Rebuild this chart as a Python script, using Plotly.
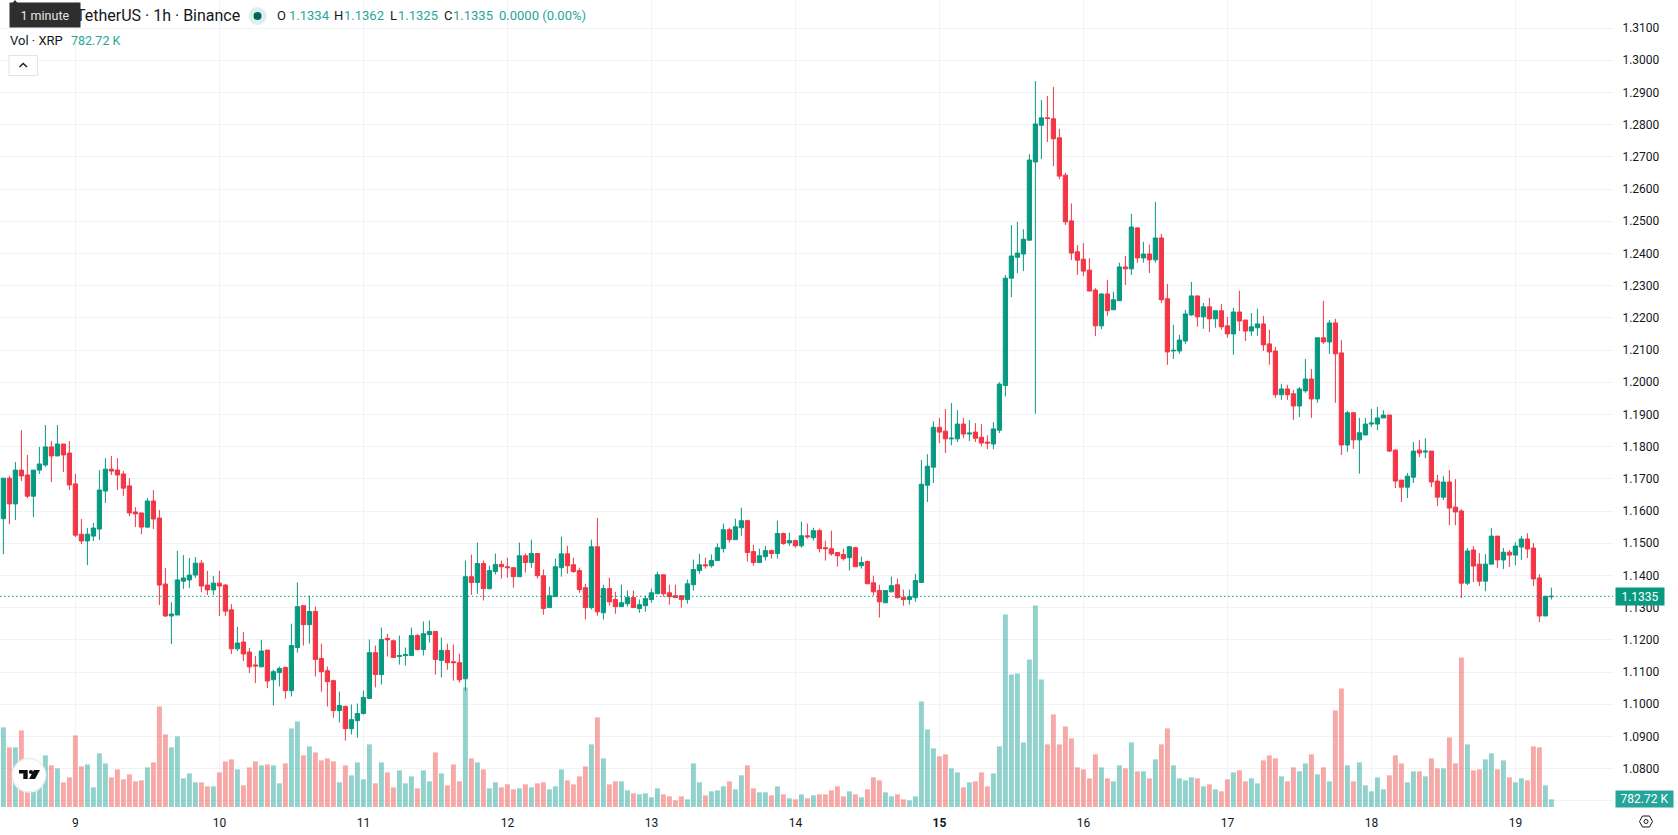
import pandas as pd
import plotly.graph_objects as go

# Hourly XRP/USDT candles, oldest first
opens = [
    1.1576,1.1702,1.1622,1.1727,1.1712,1.1646,1.1727,1.1743,1.1799,1.1771,1.1808,1.1780,
    1.1684,1.1528,1.1507,1.1522,1.1544,1.1662,1.1730,1.1727,1.1715,1.1678,1.1597,1.1594,
    1.1550,1.1631,1.1578,1.1373,1.1274,1.1277,1.1382,1.1386,1.1401,1.1438,1.1370,1.1355,
    1.1376,1.1370,1.1293,1.1172,1.1193,1.1162,1.1122,1.1116,1.1168,1.1076,1.1098,1.1114,
    1.1042,1.1176,1.1306,1.1247,1.1288,1.1142,1.1104,1.1073,1.0980,1.0993,1.0924,1.0949,
    1.0971,1.1018,1.1160,1.1092,1.1204,1.1197,1.1148,1.1151,1.1151,1.1213,1.1170,1.1216,
    1.1226,1.1136,1.1167,1.1132,1.1129,1.1079,1.1396,1.1378,1.1437,1.1359,1.1412,1.1434,
    1.1427,1.1424,1.1396,1.1461,1.1440,1.1468,1.1399,1.1300,1.1334,1.1424,1.1467,1.1433,
    1.1415,1.1362,1.1300,1.1489,1.1284,1.1359,1.1325,1.1303,1.1312,1.1331,1.1297,1.1306,
    1.1325,1.1343,1.1402,1.1346,1.1337,1.1337,1.1325,1.1371,1.1415,1.1433,1.1430,1.1446,
    1.1483,1.1542,1.1511,1.1548,1.1570,1.1474,1.1440,1.1458,1.1477,1.1468,1.1530,1.1501,
    1.1508,1.1492,1.1523,1.1517,1.1539,1.1486,1.1483,1.1471,1.1465,1.1455,1.1486,1.1430,
    1.1443,1.1377,1.1353,1.1315,1.1349,1.1371,1.1331,1.1325,1.1331,1.1378,1.1680,1.1736,
    1.1860,1.1848,1.1824,1.1824,1.1870,1.1839,1.1845,1.1829,1.1814,1.1808,1.1851,1.1990,
    1.2323,1.2388,1.2398,1.2441,1.2684,1.2798,1.2821,1.2818,1.2759,1.2643,1.2501,1.2405,
    1.2382,1.2348,1.2286,1.2175,1.2274,1.2225,1.2253,1.2358,1.2352,1.2479,1.2386,1.2398,
    1.2380,1.2448,1.2259,1.2097,1.2097,1.2128,1.2209,1.2268,1.2203,1.2234,1.2197,1.2222,
    1.2175,1.2150,1.2218,1.2193,1.2159,1.2169,1.2181,1.2119,1.2097,1.1961,1.1979,1.1964,
    1.1926,1.1973,1.2010,1.1948,1.2138,1.2125,1.2184,1.2091,1.1805,1.1905,1.1821,1.1836,
    1.1870,1.1870,1.1889,1.1898,1.1789,1.1696,1.1674,1.1705,1.1789,1.1783,1.1786,1.1693,
    1.1643,1.1690,1.1612,1.1600,1.1376,1.1479,1.1435,1.1382,1.1435,1.1522,1.1448,1.1472,
    1.1463,1.1488,1.1513,1.1485,1.1392,1.1274,1.1334,
]
highs = [
    1.1702,1.1709,1.1752,1.1851,1.1774,1.1727,1.1799,1.1867,1.1817,1.1867,1.1808,1.1817,
    1.1715,1.1575,1.1547,1.1563,1.1727,1.1764,1.1771,1.1764,1.1724,1.1702,1.1612,1.1594,
    1.1640,1.1665,1.1603,1.1423,1.1317,1.1476,1.1463,1.1454,1.1457,1.1448,1.1414,1.1398,
    1.1414,1.1373,1.1311,1.1240,1.1224,1.1175,1.1150,1.1200,1.1168,1.1107,1.1117,1.1117,
    1.1250,1.1378,1.1306,1.1337,1.1303,1.1188,1.1117,1.1076,1.1039,1.0996,1.0999,1.1002,
    1.1042,1.1201,1.1182,1.1238,1.1219,1.1201,1.1213,1.1176,1.1238,1.1219,1.1257,1.1260,
    1.1226,1.1207,1.1188,1.1185,1.1157,1.1446,1.1465,1.1502,1.1446,1.1430,1.1468,1.1446,
    1.1455,1.1424,1.1502,1.1468,1.1511,1.1468,1.1418,1.1365,1.1452,1.1520,1.1492,1.1455,
    1.1424,1.1374,1.1511,1.1579,1.1371,1.1393,1.1349,1.1371,1.1353,1.1353,1.1325,1.1337,
    1.1359,1.1412,1.1402,1.1371,1.1371,1.1337,1.1387,1.1449,1.1467,1.1455,1.1465,1.1499,
    1.1561,1.1548,1.1576,1.1610,1.1573,1.1495,1.1483,1.1492,1.1480,1.1570,1.1533,1.1533,
    1.1511,1.1567,1.1561,1.1548,1.1545,1.1508,1.1539,1.1471,1.1483,1.1492,1.1489,1.1458,
    1.1446,1.1399,1.1371,1.1353,1.1396,1.1390,1.1356,1.1356,1.1405,1.1758,1.1776,1.1879,
    1.1889,1.1917,1.1935,1.1913,1.1889,1.1882,1.1873,1.1870,1.1835,1.1876,1.2000,1.2333,
    1.2488,1.2498,1.2475,1.2708,1.2935,1.2876,1.2889,1.2917,1.2787,1.2650,1.2555,1.2426,
    1.2432,1.2385,1.2292,1.2276,1.2318,1.2281,1.2371,1.2392,1.2523,1.2482,1.2436,1.2427,
    1.2560,1.2461,1.2305,1.2178,1.2147,1.2225,1.2311,1.2268,1.2246,1.2262,1.2222,1.2243,
    1.2203,1.2231,1.2284,1.2193,1.2215,1.2228,1.2206,1.2163,1.2110,1.1995,1.1992,1.1976,
    1.1985,1.2072,1.2041,1.2138,1.2253,1.2193,1.2197,1.2131,1.1911,1.1908,1.1889,1.1889,
    1.1917,1.1923,1.1913,1.1898,1.1792,1.1696,1.1718,1.1814,1.1820,1.1826,1.1786,1.1712,
    1.1708,1.1727,1.1699,1.1606,1.1485,1.1491,1.1469,1.1466,1.1547,1.1522,1.1485,1.1479,
    1.1503,1.1522,1.1531,1.1500,1.1404,1.1336,1.1362,
]
lows = [
    1.1466,1.1559,1.1572,1.1693,1.1640,1.1581,1.1715,1.1737,1.1690,1.1771,1.1721,1.1665,
    1.1519,1.1497,1.1432,1.1507,1.1510,1.1625,1.1712,1.1665,1.1646,1.1584,1.1550,1.1528,
    1.1547,1.1544,1.1308,1.1271,1.1187,1.1277,1.1358,1.1361,1.1392,1.1348,1.1339,1.1339,
    1.1274,1.1274,1.1156,1.1165,1.1134,1.1097,1.1066,1.1116,1.1050,1.0996,1.1055,1.1017,
    1.1024,1.1160,1.1182,1.1188,1.1086,1.1039,1.0993,1.0958,1.0943,1.0887,1.0906,1.0896,
    1.0968,1.1018,1.1052,1.1061,1.1148,1.1145,1.1123,1.1120,1.1151,1.1167,1.1151,1.1191,
    1.1092,1.1083,1.1107,1.1073,1.1067,1.1042,1.1340,1.1343,1.1322,1.1356,1.1403,1.1390,
    1.1393,1.1362,1.1396,1.1409,1.1424,1.1390,1.1278,1.1300,1.1334,1.1396,1.1405,1.1408,
    1.1346,1.1263,1.1294,1.1275,1.1263,1.1306,1.1281,1.1303,1.1303,1.1300,1.1284,1.1287,
    1.1315,1.1343,1.1334,1.1309,1.1331,1.1300,1.1312,1.1353,1.1405,1.1421,1.1424,1.1446,
    1.1471,1.1502,1.1511,1.1523,1.1443,1.1430,1.1440,1.1446,1.1452,1.1452,1.1495,1.1492,
    1.1486,1.1486,1.1514,1.1508,1.1471,1.1446,1.1461,1.1427,1.1446,1.1415,1.1427,1.1421,
    1.1374,1.1337,1.1269,1.1315,1.1349,1.1328,1.1306,1.1309,1.1318,1.1378,1.1628,1.1687,
    1.1811,1.1780,1.1804,1.1814,1.1826,1.1817,1.1814,1.1801,1.1792,1.1792,1.1842,1.1956,
    1.2264,1.2339,1.2345,1.2441,1.1902,1.2693,1.2746,1.2671,1.2630,1.2488,1.2379,1.2333,
    1.2330,1.2283,1.2143,1.2165,1.2206,1.2225,1.2253,1.2302,1.2333,1.2371,1.2371,1.2339,
    1.2371,1.2246,1.2054,1.2072,1.2088,1.2119,1.2206,1.2172,1.2166,1.2156,1.2169,1.2163,
    1.2138,1.2085,1.2159,1.2128,1.2144,1.2144,1.2097,1.2054,1.1951,1.1945,1.1945,1.1883,
    1.1892,1.1967,1.1889,1.1936,1.2119,1.2088,1.1936,1.1774,1.1784,1.1793,1.1716,1.1836,
    1.1861,1.1851,1.1889,1.1783,1.1671,1.1628,1.1640,1.1687,1.1767,1.1764,1.1674,1.1615,
    1.1634,1.1556,1.1556,1.1330,1.1370,1.1379,1.1367,1.1351,1.1435,1.1423,1.1420,1.1426,
    1.1432,1.1448,1.1454,1.1367,1.1255,1.1274,1.1325,
]
closes = [
    1.1702,1.1622,1.1727,1.1709,1.1646,1.1727,1.1746,1.1799,1.1771,1.1808,1.1774,1.1681,
    1.1525,1.1507,1.1528,1.1547,1.1665,1.1730,1.1724,1.1712,1.1671,1.1594,1.1591,1.1550,
    1.1631,1.1575,1.1370,1.1274,1.1280,1.1386,1.1392,1.1401,1.1438,1.1367,1.1355,1.1376,
    1.1367,1.1289,1.1172,1.1190,1.1156,1.1116,1.1119,1.1165,1.1072,1.1101,1.1111,1.1042,
    1.1182,1.1303,1.1247,1.1288,1.1139,1.1101,1.1070,1.0980,1.0996,1.0924,1.0952,1.0971,
    1.1021,1.1160,1.1092,1.1201,1.1200,1.1145,1.1151,1.1154,1.1213,1.1170,1.1219,1.1226,
    1.1139,1.1167,1.1129,1.1129,1.1076,1.1396,1.1378,1.1437,1.1359,1.1415,1.1434,1.1427,
    1.1424,1.1396,1.1461,1.1440,1.1468,1.1399,1.1297,1.1337,1.1427,1.1467,1.1430,1.1412,
    1.1356,1.1300,1.1489,1.1287,1.1359,1.1318,1.1303,1.1315,1.1331,1.1300,1.1309,1.1328,
    1.1346,1.1402,1.1343,1.1334,1.1331,1.1325,1.1374,1.1418,1.1433,1.1430,1.1446,1.1486,
    1.1542,1.1511,1.1551,1.1570,1.1471,1.1440,1.1461,1.1477,1.1468,1.1530,1.1499,1.1508,
    1.1492,1.1523,1.1520,1.1539,1.1483,1.1483,1.1467,1.1461,1.1452,1.1489,1.1427,1.1440,
    1.1374,1.1349,1.1318,1.1353,1.1368,1.1331,1.1325,1.1334,1.1384,1.1683,1.1739,1.1860,
    1.1845,1.1824,1.1826,1.1870,1.1839,1.1842,1.1826,1.1811,1.1811,1.1855,1.1994,1.2323,
    1.2392,1.2401,1.2444,1.2690,1.2802,1.2821,1.2819,1.2756,1.2640,1.2498,1.2401,1.2379,
    1.2345,1.2283,1.2175,1.2274,1.2222,1.2256,1.2358,1.2352,1.2482,1.2386,1.2398,1.2380,
    1.2448,1.2256,1.2094,1.2099,1.2131,1.2212,1.2268,1.2203,1.2234,1.2197,1.2222,1.2172,
    1.2150,1.2218,1.2190,1.2159,1.2172,1.2181,1.2116,1.2094,1.1961,1.1979,1.1961,1.1926,
    1.1979,1.2010,1.1948,1.2138,1.2125,1.2184,1.2088,1.1805,1.1905,1.1821,1.1843,1.1870,
    1.1873,1.1889,1.1898,1.1786,1.1693,1.1674,1.1708,1.1786,1.1780,1.1786,1.1690,1.1643,
    1.1690,1.1609,1.1597,1.1376,1.1476,1.1429,1.1382,1.1435,1.1522,1.1448,1.1472,1.1463,
    1.1491,1.1513,1.1482,1.1389,1.1274,1.1335,1.1335,
]

# Traded volume per candle, in thousands of XRP
volumes_k = [
    8126,6086,6086,7820,3060,2380,2890,5270,4250,3944,2516,3026,7310,4148,4352,2006,5474,4454,
    3026,3842,2822,3332,2618,2720,4046,4556,10268,7412,6086,7208,2924,3434,2516,2516,2108,2108,
    3536,4658,4862,3842,2210,4046,4658,4250,4352,4250,2414,4454,8024,8738,5270,6188,5576,4760,
    4964,4658,2516,4250,3230,4556,2822,6392,2414,4556,3536,2006,3740,2414,3128,1904,3740,2618,
    5576,3434,2210,4352,2618,12206,4964,4556,3842,1904,2516,2006,2312,1802,1904,2312,2006,2414,
    2516,1802,2108,3842,2720,2312,3128,4148,6392,9146,4964,2312,2618,2618,1700,1394,1292,1394,
    986,1904,1292,1088,680,1088,782,4454,2516,1190,1598,1700,2108,2618,1802,3230,4250,1904,
    1496,1496,1190,2108,1292,884,782,1292,884,1190,1292,1292,1700,2108,1088,1598,1292,986,
    1802,3026,2720,1496,1088,1292,782,680,1088,10778,7922,5984,5168,5372,3944,3536,2006,2516,
    2618,3536,2108,3434,6188,19652,13532,13634,6596,15062,20570,13022,6392,9452,6392,8228,7004,
    4046,3842,2924,5372,4046,2924,2618,4250,3944,6596,3638,3638,2924,4862,6392,8024,4250,2924,
    2720,3026,2924,2108,2312,1802,1598,2822,3536,3740,2618,2924,2414,4760,5270,4964,3128,2618,
    4046,3638,4454,5372,3332,4046,2618,9860,12104,4250,2618,4556,2210,1598,3026,1802,3230,5270,
    4454,2516,3638,3638,3128,4964,3944,3944,7106,4454,15266,6392,3740,3842,4862,5474,3842,4760,
    3026,2516,2924,2720,6188,6086,2210,782.72,
]

price_ticks = [1.07 + i * 0.01 for i in range(25)]
price_labels = [""] + [f"{v:.4f}" for v in price_ticks[1:]]  # the 1.0700 slot sits behind the volume tag
day_labels = ["9", "10", "11", "12", "13", "14", "<b>15</b>", "16", "17", "18", "19"]

assert all(len(s) == len(opens) for s in (highs, lows, closes, volumes_k))

times = pd.date_range("2021-09-08 12:00", periods=len(opens), freq="h")
day_ticks = pd.date_range("2021-09-09", periods=len(day_labels), freq="D")

WIDTH, HEIGHT = 1678, 835
PLOT_W, PLOT_H = 1613, 807

UP, DOWN = "#089981", "#f23645"
VOL_UP, VOL_DOWN = "rgba(38,166,154,0.5)", "rgba(239,83,80,0.5)"
TEXT = "#131722"
GRID = "#f1f2f4"
FONT = "Roboto, sans-serif"


def px(x):
    return x / PLOT_W


def py(y):
    return 1 - y / PLOT_H


def hour_at(offset):
    return times[0] + pd.Timedelta(hours=offset)


fig = go.Figure()

# Volume histogram sits on the base axis so the candles overlay it
fig.add_trace(go.Bar(
    x=times, y=volumes_k, width=3600000 * 0.82,
    marker=dict(color=[VOL_UP if c >= o else VOL_DOWN for o, c in zip(opens, closes)], line_width=0),
    yaxis="y", hoverinfo="skip",
))
fig.add_trace(go.Candlestick(
    x=times, open=opens, high=highs, low=lows, close=closes, yaxis="y2",
    whiskerwidth=0,
    increasing=dict(line=dict(color=UP, width=1), fillcolor=UP),
    decreasing=dict(line=dict(color=DOWN, width=1), fillcolor=DOWN),
))

last_close = closes[-1]
shapes = [
    # Last-price line
    dict(type="line", xref="paper", yref="y2", x0=0, x1=1, y0=last_close, y1=last_close,
         line=dict(color=UP, width=1, dash="1.5px,2.5px"), layer="above"),
]


def box(x0, y0, x1, y1, **kw):
    return dict(type="rect", xref="paper", yref="paper", x0=px(x0), x1=px(x1), y0=py(y1), y1=py(y0), layer="above", **kw)


def poly(points, **kw):
    d = "M" + " L".join(f"{px(x)},{py(y)}" for x, y in points)
    return dict(type="path", xref="paper", yref="paper", path=d, layer="above", **kw)


def disc(cx, cy, r, **kw):
    return dict(type="circle", xref="paper", yref="paper", x0=px(cx - r), x1=px(cx + r),
                y0=py(cy + r), y1=py(cy - r), layer="above", **kw)


shapes += [
    # Status dot in the legend row
    disc(257.5, 16, 9, fillcolor="#dcf0ed", line_width=0),
    disc(257.5, 16, 4, fillcolor="#056656", line_width=0),
    # Collapse button
    box(9, 55.5, 37.5, 75.5, fillcolor="white", line=dict(color="#e0e3eb", width=1)),
    poly([(19.5, 67), (23.2, 63.5), (27, 67)], line=dict(color=TEXT, width=1.4)),
    # Watermark badge
    disc(29, 775.3, 16.7, fillcolor="white", line=dict(color="#eceef2", width=1.5)),
    poly([(19, 770), (27.7, 770), (27.7, 779), (23.3, 779), (23.3, 773.4), (19, 773.4), (19, 770)], fillcolor="#0f0f0f", line_width=0),
    disc(31, 772, 2.1, fillcolor="#0f0f0f", line_width=0),
    poly([(34, 770), (40, 770), (35, 779), (29, 779), (34, 770)], fillcolor="#0f0f0f", line_width=0),
    # Settings glyph under the price scale
    poly([(1639.5, 821.5), (1642.5, 816), (1649.5, 816), (1652.5, 821.5), (1649.5, 827), (1642.5, 827), (1639.5, 821.5)],
         line=dict(color=TEXT, width=1)),
    disc(1646, 821.5, 2, line=dict(color=TEXT, width=1)),
    # Tooltip pointer
    poly([(12, 3.5), (15, 0), (18, 3.5)], fillcolor="#2e2e2e", line_width=0),
]


def label(x, y, text, color=TEXT, size=13, anchor="left", **kw):
    return dict(xref="paper", yref="paper", x=px(x), y=py(y), text=text, showarrow=False,
                xanchor=anchor, yanchor="middle", font=dict(family=FONT, size=size, color=color),
                borderpad=0, **kw)


TEAL = "#26a69a"
annotations = [
    label(241, 16, "TetherUS · 1h · Binance", size=16, anchor="right"),
    label(9, 15, "1 minute", color="#e6e6e6", size=12.5,
          bgcolor="#2e2e2e", width=70, height=24, align="center"),
    label(275.5, 16, "O"), label(287.8, 16, "1.1334", color=TEAL),
    label(332.5, 16, "H"), label(343.3, 16, "1.1362", color=TEAL),
    label(389.2, 16, "L"), label(396.9, 16, "1.1325", color=TEAL),
    label(442.6, 16, "C"), label(452, 16, "1.1335", color=TEAL),
    label(497.5, 16, "0.0000 (0.00%)", color=TEAL),
    label(9, 40.5, "Vol · XRP"),
    label(70, 40.5, "782.72 K", color=TEAL, size=12.5),
    # Price-scale tags
    dict(xref="paper", yref="y2", x=px(1615), y=last_close, text="1.1335", showarrow=False,
         xanchor="left", yanchor="middle", font=dict(family=FONT, size=12, color="white"),
         bgcolor=UP, width=48, height=17, borderpad=0, align="center"),
    label(1615, 799, "782.72 K", color="white", size=12, bgcolor=TEAL, width=57, height=16, align="center"),
]

fig.update_layout(
    width=WIDTH, height=HEIGHT,
    margin=dict(l=0, r=WIDTH - PLOT_W, t=0, b=HEIGHT - PLOT_H, pad=0),
    paper_bgcolor="white", plot_bgcolor="white",
    showlegend=False, boxgap=0.14, boxgroupgap=0.18,
    font=dict(family=FONT, size=12, color=TEXT),
    shapes=shapes, annotations=annotations,
    xaxis=dict(
        type="date", range=[hour_at(-3.4 / 6), hour_at((PLOT_W - 3.4) / 6)],
        tickvals=list(day_ticks), ticktext=day_labels, ticks="outside", ticklen=5, tickcolor="rgba(0,0,0,0)",
        showgrid=True, gridcolor=GRID, gridwidth=1, showline=False, zeroline=False,
        rangeslider=dict(visible=False), tickfont=dict(family=FONT, size=12, color=TEXT),
    ),
    # Volume axis is scaled so bars occupy the lower quarter of the pane
    yaxis=dict(range=[0, PLOT_H * 102.1], visible=False, fixedrange=True),
    yaxis2=dict(
        overlaying="y", side="right", range=[1.13 - (PLOT_H - 607.6) / 3220, 1.13 + 607.6 / 3220],
        tickvals=price_ticks, ticktext=price_labels,
        showgrid=True, gridcolor=GRID, gridwidth=1, zeroline=False, showline=False,
        ticks="outside", ticklen=6, tickcolor="rgba(0,0,0,0)",
        tickfont=dict(family=FONT, size=12, color=TEXT),
    ),
)

fig.write_html("out.html")
